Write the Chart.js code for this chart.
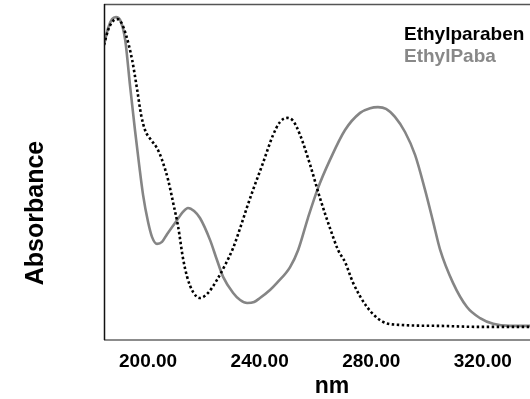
<!DOCTYPE html>
<html><head><meta charset="utf-8">
<script src="https://cdn.jsdelivr.net/npm/chart.js@4/dist/chart.umd.min.js"></script>
<style>html,body{margin:0;padding:0;background:#fff}#wrap{width:530px;height:399px}</style>
</head><body><div id="wrap"><canvas id="c" width="530" height="399"></canvas></div>
<script>
const seriesNames = ['Ethylparaben', 'EthylPaba'];
const xTicks = [200, 240, 280, 320];
const parabenNm = [184.2,185.7,187.1,188.9,190.3,192.1,194.3,196.1,197.5,198.9,201.1,203.2,205.0,207.2,209.0,210.8,212.5,214.0,216.1,218.6,221.5,224.7,227.6,230.5,233.0,235.5,237.6,241.2,244.8,247.3,249.8,252.0,254.5,258.1,261.6,265.2,268.1,270.6,273.5,278.5,284.2,290.3,304.7,319.0,336.9];
const parabenAbs = [0.878,0.923,0.946,0.955,0.946,0.908,0.833,0.744,0.670,0.625,0.595,0.571,0.536,0.476,0.408,0.336,0.244,0.188,0.143,0.125,0.140,0.179,0.223,0.274,0.333,0.396,0.446,0.527,0.610,0.649,0.661,0.652,0.610,0.521,0.423,0.333,0.268,0.232,0.170,0.098,0.054,0.045,0.042,0.039,0.039];
const pabaNm = [184.2,185.7,187.1,188.5,190.0,191.8,193.5,195.3,196.8,198.2,200.0,201.4,203.2,205.0,206.8,210.4,212.5,214.3,216.5,218.6,222.2,224.7,226.9,230.5,233.0,235.5,238.0,240.1,243.7,246.2,250.9,253.8,257.3,260.9,265.2,270.6,276.0,279.6,282.4,285.3,288.5,292.1,295.7,299.3,302.2,304.7,309.3,314.3,319.0,323.7,329.7,336.9];
const pabaAbs = [0.878,0.929,0.955,0.961,0.952,0.893,0.759,0.625,0.521,0.432,0.351,0.307,0.286,0.292,0.315,0.357,0.381,0.393,0.384,0.363,0.298,0.238,0.188,0.140,0.119,0.110,0.113,0.125,0.149,0.170,0.217,0.268,0.363,0.452,0.536,0.625,0.676,0.690,0.693,0.688,0.664,0.619,0.551,0.446,0.351,0.268,0.170,0.098,0.065,0.048,0.042,0.042];

const toPts = (xs, ys) => xs.map((x, i) => ({x: x, y: ys[i]}));
const FONT = '"Liberation Sans", Arial, sans-serif';

const decor = {
  id: 'decor',
  afterDatasetsDraw(chart) {
    const {ctx, chartArea: a} = chart;
    ctx.save();
    ctx.lineWidth = 1.5;
    ctx.strokeStyle = '#555';
    ctx.beginPath(); ctx.moveTo(a.left, a.top + 0.5); ctx.lineTo(a.right, a.top + 0.5); ctx.stroke();
    ctx.strokeStyle = '#666';
    ctx.beginPath(); ctx.moveTo(a.left, a.bottom); ctx.lineTo(a.right, a.bottom); ctx.stroke();
    ctx.strokeStyle = '#111';
    ctx.beginPath(); ctx.moveTo(a.left + 0.5, a.top); ctx.lineTo(a.left + 0.5, a.bottom); ctx.stroke();
    ctx.font = 'bold 19px ' + FONT;
    ctx.textBaseline = 'alphabetic';
    ctx.textAlign = 'left';
    ctx.fillStyle = '#000';
    ctx.fillText(seriesNames[0], 404, 40);
    ctx.fillStyle = '#888';
    ctx.fillText(seriesNames[1], 404, 62);
    ctx.fillStyle = '#000';
    ctx.font = 'bold 23px ' + FONT;
    ctx.textAlign = 'center';
    ctx.fillText('nm', 332, 393);
    ctx.font = 'bold 25px ' + FONT;
    ctx.translate(43, 213);
    ctx.rotate(-Math.PI / 2);
    ctx.fillText('Absorbance', 0, 0);
    ctx.restore();
  }
};

new Chart(document.getElementById('c'), {
  type: 'line',
  data: {
    datasets: [
      {label: seriesNames[0], data: toPts(parabenNm, parabenAbs), borderColor: '#000', borderWidth: 2.6, borderDash: [2.5, 2.5], pointRadius: 0, cubicInterpolationMode: 'monotone', fill: false},
      {label: seriesNames[1], data: toPts(pabaNm, pabaAbs), borderColor: '#858585', borderWidth: 2.6, pointRadius: 0, cubicInterpolationMode: 'monotone', fill: false}
    ]
  },
  options: {
    responsive: false,
    animation: false,
    layout: {padding: {top: 4, right: 0, left: 0, bottom: 0}},
    plugins: {legend: {display: false}, tooltip: {enabled: false}},
    scales: {
      x: {
        type: 'linear', min: 184.2, max: 336.9,
        grid: {display: false, drawTicks: false},
        border: {display: false},
        afterBuildTicks: s => { s.ticks = xTicks.map(v => ({value: v})); },
        afterFit: s => { s.height = 59; },
        ticks: {padding: 10, color: '#000', font: {family: FONT, size: 19, weight: 'bold'}, maxRotation: 0, autoSkip: false, callback: v => Number(v).toFixed(2)}
      },
      y: {
        min: 0, max: 1,
        grid: {display: false},
        border: {display: false},
        ticks: {display: false},
        afterFit: s => { s.width = 104; }
      }
    }
  },
  plugins: [decor]
});
</script></body></html>
